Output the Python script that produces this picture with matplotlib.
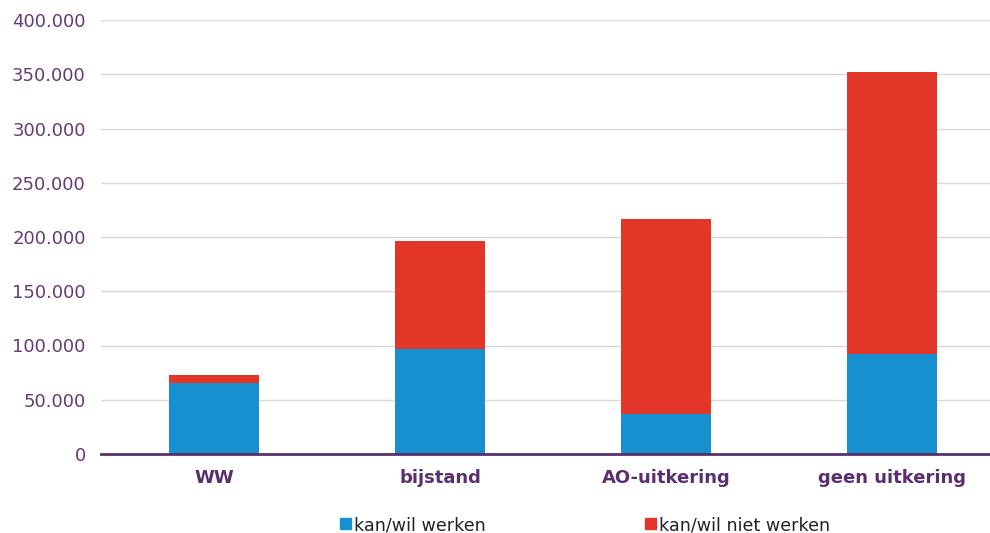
import matplotlib.pyplot as plt
import matplotlib.patches as mpatches
import numpy as np

categories = ['WW', 'bijstand', 'AO-uitkering', 'geen uitkering']
kan_wil_werken = [65000, 97000, 37000, 92000]
kan_wil_niet_werken = [8000, 99000, 180000, 260000]
y_ticks = [0, 50000, 100000, 150000, 200000, 250000, 300000, 350000, 400000]
series_labels = ['kan/wil werken', 'kan/wil niet werken']

blue = '#1790d0'
red = '#e13628'
purple = '#5b2e6f'

fig = plt.figure(figsize=(9.9, 5.33), dpi=100)
ax = fig.add_axes([101 / 990, (533 - 454) / 533, 904 / 990, 434 / 533])

x = np.arange(len(categories))
ax.bar(x, kan_wil_werken, width=0.4, color=blue, zorder=3)
ax.bar(x, kan_wil_niet_werken, width=0.4, bottom=kan_wil_werken, color=red, zorder=3)

ax.set_xlim(-0.5, 3.5)
ax.set_ylim(0, 400000)
ax.set_yticks(y_ticks)
ax.set_yticklabels([f'{v:,}'.replace(',', '.') for v in y_ticks])
ax.set_xticks(x)
ax.set_xticklabels(categories, fontweight='bold')

ax.grid(axis='y', color='#d9d9d9', linewidth=1, zorder=0)
for side in ['top', 'right', 'left']:
    ax.spines[side].set_visible(False)
ax.spines['bottom'].set_color(purple)
ax.spines['bottom'].set_linewidth(2)
ax.spines['bottom'].set_zorder(4)

ax.tick_params(axis='y', length=0, pad=11, labelsize=13, labelcolor='#653a78')
ax.tick_params(axis='x', length=0, pad=11, labelsize=13, labelcolor=purple)

handles = [mpatches.Patch(color=blue, label=series_labels[0]),
           mpatches.Patch(color=red, label=series_labels[1])]
fig.legend(handles=handles, loc='center', bbox_to_anchor=(0.591, 0.015),
           ncol=2, frameon=False, fontsize=12.6, handlelength=0.6, handleheight=0.6,
           handletextpad=0.2, columnspacing=9.1, labelcolor='#222222')

fig.savefig('out.png', dpi=100)
